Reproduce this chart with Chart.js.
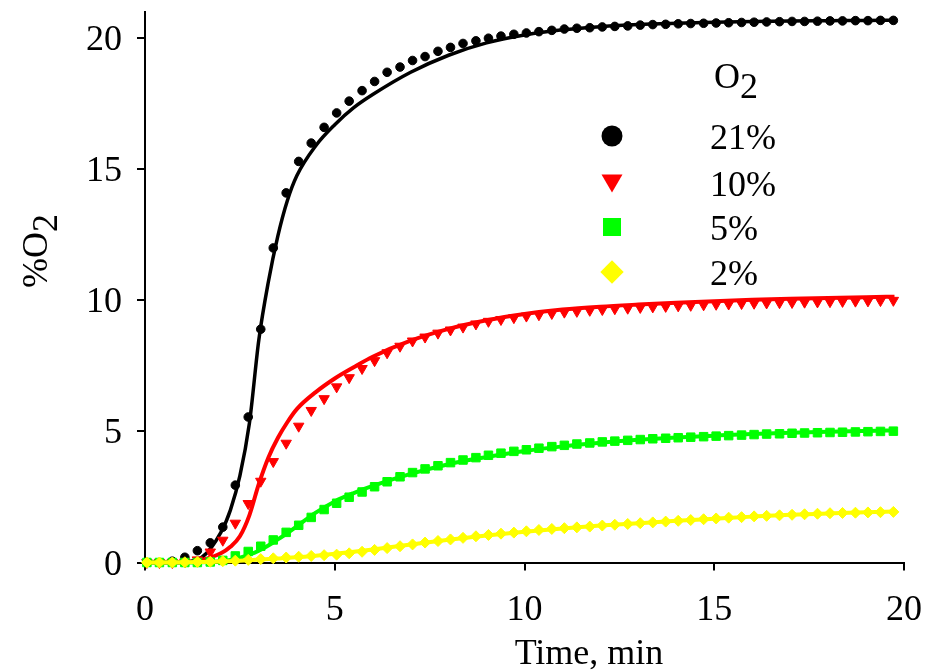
<!DOCTYPE html>
<html>
<head>
<meta charset="utf-8">
<title>O2 uptake</title>
<script src="https://cdn.jsdelivr.net/npm/chart.js@4.4.1/dist/chart.umd.min.js"></script>
<style>
  html, body { margin: 0; padding: 0; background: #fff; }
</style>
</head>
<body>
<canvas id="o2Chart" width="925" height="671"></canvas>
<script>
// ---------------------------------------------------------------
// data: measured points (every 20 s) and fitted curves
// ---------------------------------------------------------------
const sampleTimes = [0.05, 0.38, 0.72, 1.05, 1.38, 1.72, 2.05, 2.38, 2.72, 3.05,
  3.38, 3.72, 4.05, 4.38, 4.72, 5.05, 5.38, 5.72, 6.05, 6.38,
  6.72, 7.05, 7.38, 7.72, 8.05, 8.38, 8.72, 9.05, 9.38, 9.72,
  10.05, 10.38, 10.72, 11.05, 11.38, 11.72, 12.05, 12.38, 12.72, 13.05,
  13.38, 13.72, 14.05, 14.38, 14.72, 15.05, 15.38, 15.72, 16.05, 16.38,
  16.72, 17.05, 17.38, 17.72, 18.05, 18.38, 18.72, 19.05, 19.38, 19.72];

const o2_21 = [0, 0, 0.05, 0.2, 0.45, 0.75, 1.35, 2.95, 5.55, 8.9,
  12.0, 14.1, 15.3, 16.0, 16.6, 17.15, 17.6, 18.0, 18.35, 18.7,
  18.9, 19.15, 19.3, 19.5, 19.65, 19.8, 19.9, 20.0, 20.08, 20.15,
  20.2, 20.25, 20.3, 20.35, 20.38, 20.4, 20.43, 20.45, 20.47, 20.5,
  20.52, 20.53, 20.55, 20.56, 20.57, 20.58, 20.59, 20.6, 20.61, 20.62,
  20.63, 20.64, 20.64, 20.65, 20.66, 20.66, 20.67, 20.67, 20.68, 20.68];

const o2_10 = [0, 0, 0, 0.02, 0.1, 0.4, 0.85, 1.5, 2.25, 3.1,
  3.85, 4.55, 5.2, 5.8, 6.25, 6.7, 7.05, 7.4, 7.7, 8.0,
  8.25, 8.45, 8.6, 8.75, 8.87, 8.98, 9.1, 9.2, 9.27, 9.34,
  9.4, 9.45, 9.5, 9.55, 9.58, 9.62, 9.65, 9.68, 9.7, 9.73,
  9.75, 9.77, 9.79, 9.81, 9.83, 9.85, 9.86, 9.88, 9.89, 9.9,
  9.91, 9.92, 9.93, 9.94, 9.95, 9.96, 9.97, 9.98, 9.99, 10.0];

const o2_5 = [0, 0, 0, 0, 0, 0.02, 0.08, 0.25, 0.42, 0.62,
  0.86, 1.15, 1.42, 1.72, 2.02, 2.26, 2.49, 2.69, 2.89, 3.08,
  3.27, 3.43, 3.57, 3.69, 3.81, 3.91, 4.0, 4.09, 4.17, 4.24,
  4.3, 4.36, 4.42, 4.47, 4.52, 4.56, 4.6, 4.63, 4.66, 4.69,
  4.72, 4.74, 4.76, 4.78, 4.8, 4.82, 4.84, 4.86, 4.88, 4.9,
  4.91, 4.93, 4.94, 4.95, 4.96, 4.97, 4.98, 4.99, 5.0, 5.01];

const o2_2 = [0, 0, 0, 0.01, 0.02, 0.03, 0.05, 0.07, 0.1, 0.13,
  0.16, 0.19, 0.22, 0.25, 0.28, 0.3, 0.35, 0.41, 0.48, 0.55,
  0.62, 0.69, 0.76, 0.82, 0.88, 0.94, 1.0, 1.05, 1.1, 1.14,
  1.19, 1.24, 1.28, 1.31, 1.34, 1.37, 1.41, 1.44, 1.47, 1.5,
  1.53, 1.56, 1.59, 1.62, 1.65, 1.68, 1.71, 1.73, 1.76, 1.78,
  1.8, 1.82, 1.84, 1.86, 1.88, 1.89, 1.9, 1.91, 1.92, 1.93];

const fitTimes = [0, 1, 1.5, 2, 2.25, 2.5, 2.75, 3, 3.25, 3.5,
  3.75, 4, 4.5, 5, 5.5, 6, 7, 8, 9, 10,
  11, 12, 13, 14, 15, 16, 17, 18, 19, 19.75];

const fit_21 = [0, 0.02, 0.2, 1.15, 2.0, 3.3, 5.3, 8.5, 10.7, 12.45,
  13.8, 14.75, 15.9, 16.7, 17.35, 17.85, 18.7, 19.35, 19.82, 20.12,
  20.32, 20.44, 20.52, 20.57, 20.61, 20.64, 20.66, 20.67, 20.68, 20.69];

const fit_10 = [0, 0, 0.1, 0.35, 0.6, 1.0, 1.8, 3.0, 4.0, 4.75,
  5.35, 5.85, 6.5, 7.02, 7.45, 7.85, 8.46, 8.91, 9.24, 9.48,
  9.65, 9.76, 9.84, 9.91, 9.97, 10.02, 10.06, 10.09, 10.12, 10.14];

const fit_5 = [0, 0, 0.01, 0.05, 0.1, 0.18, 0.3, 0.45, 0.65, 0.88,
  1.12, 1.38, 1.9, 2.33, 2.65, 2.92, 3.38, 3.75, 4.02, 4.25,
  4.43, 4.57, 4.68, 4.77, 4.84, 4.9, 4.95, 4.99, 5.02, 5.04];

const fit_2 = [0, 0.01, 0.02, 0.04, 0.05, 0.07, 0.09, 0.11, 0.13, 0.15,
  0.18, 0.2, 0.26, 0.33, 0.41, 0.5, 0.69, 0.87, 1.03, 1.17,
  1.3, 1.41, 1.5, 1.59, 1.67, 1.75, 1.82, 1.87, 1.92, 1.95];

const seriesLabels = ['21%', '10%', '5%', '2%'];
const seriesColors = ['#000000', '#ff0000', '#00ff00', '#ffff00'];

const xTicks = [0, 5, 10, 15, 20];
const yTicks = [0, 5, 10, 15, 20];

// ---------------------------------------------------------------
// text helpers
// ---------------------------------------------------------------
const SERIF = '"Liberation Serif", "Times New Roman", serif';
const TICK_SIZE = 36;
const TITLE_SIZE = 36;

function drawText(ctx, text, x, y, size, align) {
    ctx.save();
    ctx.font = size + 'px ' + SERIF;
    ctx.textAlign = align;
    ctx.textBaseline = 'alphabetic';
    ctx.fillStyle = '#000';
    ctx.fillText(text, x, y);
    ctx.restore();
}

// "O" + lowered "2"
function drawSub(ctx, main, sub, x, y, size) {
    ctx.save();
    ctx.font = size + 'px ' + SERIF;
    const w = ctx.measureText(main).width;
    ctx.restore();
    drawText(ctx, main, x, y, size, 'left');
    drawText(ctx, sub, x + w, y + 10, size, 'left');
}

function legendMarker(ctx, kind, x, y, color) {
    ctx.save();
    ctx.fillStyle = color;
    ctx.beginPath();
    if (kind === 'circle') {
        ctx.arc(x, y, 10.5, 0, Math.PI * 2);
    } else if (kind === 'triangle') {
        ctx.moveTo(x - 10.5, y - 8.5);
        ctx.lineTo(x + 10.5, y - 8.5);
        ctx.lineTo(x, y + 9.5);
        ctx.closePath();
    } else if (kind === 'rect') {
        ctx.rect(x - 9, y - 9, 18, 18);
    } else {
        ctx.moveTo(x, y - 11.7);
        ctx.lineTo(x + 11.7, y);
        ctx.lineTo(x, y + 11.7);
        ctx.lineTo(x - 11.7, y);
        ctx.closePath();
    }
    ctx.fill();
    ctx.restore();
}

const figureText = {
    id: 'figureText',
    afterDraw(chart) {
        const ctx = chart.ctx;
        const xs = chart.scales.x;
        const ys = chart.scales.y;

        yTicks.forEach(v => drawText(ctx, String(v), 122, ys.getPixelForValue(v) + 12, TICK_SIZE, 'right'));
        xTicks.forEach(v => drawText(ctx, String(v), xs.getPixelForValue(v), 620, TICK_SIZE, 'center'));

        drawText(ctx, 'Time, min', 589, 664, TITLE_SIZE, 'center');

        ctx.save();
        ctx.translate(47, 288);
        ctx.rotate(-Math.PI / 2);
        drawSub(ctx, '%O', '2', 0, 0, TITLE_SIZE);
        ctx.restore();

        // legend
        drawSub(ctx, 'O', '2', 714, 88, TITLE_SIZE);
        const kinds = ['circle', 'triangle', 'rect', 'diamond'];
        const rows = [136, 183, 227, 272];
        rows.forEach((y, i) => {
            legendMarker(ctx, kinds[i], 612, y, seriesColors[i]);
            drawText(ctx, seriesLabels[i], 710, y + 13, TITLE_SIZE, 'left');
        });
    }
};

// ---------------------------------------------------------------
// datasets
// ---------------------------------------------------------------
function pts(times, values) {
    return times.map((t, i) => ({ x: t, y: values[i] }));
}

function fitLine(values, color, width) {
    return {
        data: pts(fitTimes, values),
        borderColor: color,
        borderWidth: width,
        pointRadius: 0,
        cubicInterpolationMode: 'monotone',
        fill: false,
        clip: false
    };
}

function markers(values, color, style, radius, rotation) {
    return {
        data: pts(sampleTimes, values),
        showLine: false,
        pointStyle: style,
        pointRadius: radius,
        pointRotation: rotation || 0,
        pointBackgroundColor: color,
        pointBorderColor: color,
        pointBorderWidth: 1,
        clip: false
    };
}

const axisColor = '#000';

new Chart(document.getElementById('o2Chart'), {
    type: 'line',
    data: {
        // first dataset is drawn on top
        datasets: [
            fitLine(fit_2, seriesColors[3], 4),
            markers(o2_2, seriesColors[3], 'rectRot', 5.5),
            fitLine(fit_5, seriesColors[2], 4),
            markers(o2_5, seriesColors[2], 'rect', 6),
            fitLine(fit_10, seriesColors[1], 4),
            markers(o2_10, seriesColors[1], 'triangle', 6, 180),
            fitLine(fit_21, seriesColors[0], 3.5),
            markers(o2_21, seriesColors[0], 'circle', 4.3)
        ]
    },
    options: {
        responsive: false,
        animation: false,
        layout: { padding: { top: 12, right: 21, left: 0, bottom: 0 } },
        plugins: {
            legend: { display: false },
            tooltip: { enabled: false }
        },
        scales: {
            x: {
                type: 'linear',
                min: 0,
                max: 20,
                ticks: { stepSize: 5, display: false },
                grid: { drawOnChartArea: false, color: axisColor, lineWidth: 2, tickLength: 8 },
                border: { color: axisColor, width: 2 },
                afterFit: s => { s.height = 108.5; }
            },
            y: {
                type: 'linear',
                min: 0,
                max: 21,
                ticks: { stepSize: 5, display: false, includeBounds: false },
                grid: { drawOnChartArea: false, color: axisColor, lineWidth: 2, tickLength: 8 },
                border: { color: axisColor, width: 2 },
                afterFit: s => { s.width = 145; }
            }
        }
    },
    plugins: [figureText]
});
</script>
</body>
</html>
